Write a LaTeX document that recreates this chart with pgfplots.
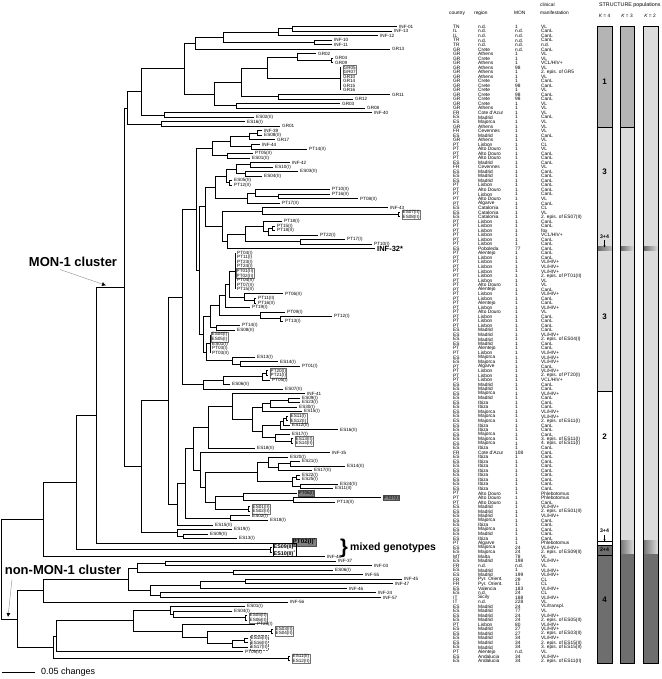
\documentclass[border=0pt]{standalone}
\usepackage{fontspec}
\setmainfont{Liberation Sans}
\usepackage{pgfplots}
\pgfplotsset{compat=1.18}
\usepackage{pgfplotstable}
\usetikzlibrary{arrows.meta}
\definecolor{segA}{HTML}{B4B4B4}
\definecolor{segL}{HTML}{DCDCDC}
\definecolor{segD}{HTML}{6E6E6E}
\newcommand\lbl{\fontsize{4.6}{4.53}\selectfont}
\newcommand\tbf{\fontsize{4.8}{4.53}\selectfont}
\tikzset{bx/.style={anchor=west, draw=black!55, inner sep=0.5pt, align=left, font=\lbl}}

\pgfplotstableread[col sep=comma]{
country,region,mon,clin
TN,n.d.,1,VL
IL,n.d.,n.d.,CanL
IL,n.d.,n.d.,CanL
TR,n.d.,n.d.,CanL
TR,n.d.,n.d.,n.d.
GR,Crete,n.d.,CanL
GR,Athens,1,VL
GR,Crete,1,VL
GR,Athens,1,VCL/HIV+
GR,Athens,98,VL
GR,Athens,1,2. epis. of GR5
GR,Athens,1,VL
GR,Crete,1,CanL
GR,Crete,98,CanL
GR,Crete,1,VL
GR,Crete,98,CanL
GR,Crete,98,CanL
GR,Crete,1,VL
GR,Athens,1,VL
FR,Cote d'Azur,1,VL
ES,Madrid,1,CanL
ES,Majorca,1,VL
GR,Athens,1,VL
FR,Cevennes,1,VL
ES,Madrid,1,CanL
GR,Athens,1,VL
PT,Lisbon,1,CL
PT,Alto Douro,1,VL
PT,Alto Douro,1,CanL
PT,Alto Douro,1,CanL
ES,Madrid,1,CanL
FR,Cevennes,1,VL
ES,Madrid,1,CanL
ES,Madrid,1,CanL
ES,Madrid,1,CanL
PT,Lisbon,1,CanL
PT,Alto Douro,1,CanL
PT,Lisbon,1,CanL
PT,Alto Douro,1,VL
PT,Algarve,1,CanL
ES,Catalonia,1,CL
ES,Catalonia,1,VL
ES,Catalonia,1,2. epis. of ES07(II)
PT,Lisbon,1,CanL
PT,Lisbon,1,CanL
PT,Lisbon,1,fox
PT,Lisbon,1,VCL/HIV+
PT,Lisbon,1,CanL
PT,Lisbon,1,CanL
ES,Poboleda,77,CanL
PT,Alentejo,1,CanL
PT,Lisbon,1,CanL
PT,Lisbon,1,VL/HIV+
PT,Lisbon,1,VL/HIV+
PT,Lisbon,1,VL/HIV+
PT,Lisbon,1,2. epis. of PT01(II)
PT,Lisbon,1,VL
PT,Alto Douro,1,VL
PT,Alentejo,1,CanL
PT,Lisbon,1,VL/HIV+
PT,Lisbon,1,CanL
PT,Alentejo,1,CanL
PT,Lisbon,1,VL/HIV+
PT,Alto Douro,1,VL
PT,Lisbon,1,CanL
PT,Lisbon,1,CanL
PT,Lisbon,1,CanL
ES,Madrid,1,CanL
ES,Madrid,1,VL/HIV+
ES,Madrid,1,2. epis. of ES04(I)
ES,Madrid,1,CanL
PT,Alentejo,1,CanL
PT,Lisbon,1,VL/HIV+
ES,Majorca,1,VL/HIV+
ES,Majorca,1,VL/HIV+
PT,Algarve,1,CanL
PT,Lisbon,1,VL/HIV+
PT,Lisbon,1,2. epis. of PT20(I)
PT,Lisbon,1,VCL/HIV+
ES,Madrid,1,CanL
ES,Madrid,1,CanL
ES,Majorca,1,VL/HIV+
ES,Madrid,1,CanL
ES,Ibiza,1,CanL
ES,Ibiza,1,CanL
ES,Majorca,1,VL/HIV+
ES,Majorca,1,VL/HIV+
ES,Majorca,1,2. epis. of ES11(I)
ES,Ibiza,1,CanL
ES,Ibiza,1,CanL
ES,Majorca,1,CanL
ES,Majorca,1,3. epis. of ES11(I)
ES,Majorca,1,4. epis. of ES11(I)
ES,Ibiza,1,CanL
FR,Cote d'Azur,108,CanL
ES,Ibiza,1,CanL
ES,Ibiza,1,CanL
ES,Ibiza,1,CanL
ES,Ibiza,1,CanL
ES,Ibiza,1,CanL
ES,Ibiza,1,CanL
ES,Ibiza,1,CanL
ES,Ibiza,1,CanL
PT,Alto Douro,1,Phlebotomus
PT,Alto Douro,1,Phlebotomus
PT,Alto Douro,1,CanL
ES,Madrid,1,VL/HIV+
ES,Madrid,1,2. epis. of ES01(II)
ES,Madrid,1,VL/HIV+
ES,Majorca,1,CanL
ES,Ibiza,1,CanL
ES,Majorca,1,CanL
ES,Madrid,1,CanL
ES,Ibiza,1,CanL
PT,Algarve,1,Phlebotomus
ES,Majorca,24,VL/HIV+
ES,Majorca,24,2. epis. of ES09(II)
MT,Malta,78,VL
ES,Madrid,198,VL/HIV+
FR,n.d.,n.d.,VL
ES,Madrid,1,VL/HIV+
ES,Madrid,199,VL/HIV+
FR,Pyr. Orient.,29,CL
FR,Pyr. Orient.,11,CL
ES,Valencia,183,VL/HIV+
ES,n.d.,24,CL
IT,Sicily,188,VL/HIV+
IT,n.d.,228,VL
ES,Madrid,24,VL/transpl.
ES,Madrid,77,VL
ES,Madrid,24,VL/HIV+
ES,Madrid,24,2. epis. of ES05(II)
PT,Lisbon,80,VL/HIV+
ES,Madrid,27,VL/HIV+
ES,Madrid,27,2. epis. of ES03(II)
ES,Madrid,34,VL/HIV+
ES,Madrid,34,2. epis. of ES15(II)
ES,Madrid,34,3. epis. of ES15(II)
PT,Alentejo,n.d.,VL
ES,Andalucia,34,VL/HIV+
ES,Andalucia,34,2. epis. of ES11(II)
}\infotab

\pgfplotstableread[col sep=comma]{
x,r,lab
399,1,INF-01
394,2,INF-13
380,3,INF-12
334,4,INF-10
334,5,INF-11
392,6,GR13
318,7,GR02
335,8,GR04
335,9,GR09
343,12,GR10
343,13,GR14
343,14,GR15
343,15,GR16
392,16,GR11
355,17,GR12
342,18,GR03
367,19,GR08
374,20,INF-40
256,21,ES02(II)
247,22,ES16(I)
282,23,GR01
264,24,INF-39
264,25,ES08(II)
277,26,GR17
262,27,INF-44
309,28,PT14(II)
255,29,PT05(II)
252,30,ES01(II)
292,31,INF-42
275,32,ES10(I)
300,33,ES03(II)
264,34,ES04(II)
234,35,ES05(II)
234,36,PT12(II)
332,37,PT10(II)
332,38,PT16(II)
360,39,PT08(II)
282,40,PT17(II)
390,41,INF-43
284,44,PT18(I)
277,45,PT15(I)
277,46,PT18(II)
320,47,PT22(I)
347,48,PT17(I)
374,49,PT10(I)
237,51,PT04(I)
237,52,PT11(I)
237,53,PT23(I)
237,54,PT24(I)
237,57,PT04(II)
237,58,PT07(II)
237,59,PT15(II)
285,60,PT06(II)
258,61,PT11(II)
258,62,PT16(II)
252,63,PT19(I)
287,64,PT09(I)
334,65,PT12(I)
285,66,PT13(I)
242,67,PT14(I)
237,68,ES08(II)
212,71,ES01(I)
212,72,PT03(I)
212,73,PT03(II)
257,74,ES13(I)
280,75,ES14(I)
302,76,PT01(I)
272,79,PT05(I)
232,80,ES06(II)
285,81,ES07(II)
307,82,INF-41
302,83,ES09(I)
302,84,ES23(I)
299,85,ES30(I)
304,86,ES15(I)
292,89,ES12(II)
340,90,ES16(II)
292,91,ES17(I)
257,94,ES18(II)
332,95,INF-35
290,96,ES20(I)
302,97,ES21(I)
347,98,ES14(II)
314,99,ES17(II)
302,100,ES22(I)
302,101,ES25(I)
340,102,ES24(II)
335,103,ES11(II)
337,106,PT13(II)
252,109,ES02(I)
270,110,ES18(I)
215,111,ES15(II)
234,112,ES19(I)
210,113,ES09(II)
239,114,ES13(I)
327,118,INF-48
338,119,INF-37
374,120,INF-03
335,121,ES06(I)
365,122,INF-55
404,123,INF-45
395,124,INF-47
349,125,INF-46
378,126,INF-24
383,127,INF-57
290,128,INF-56
247,129,ES01(I)
234,130,ES04(I)
257,133,PT25(I)
245,139,PT09(II)
}\leaftab

\begin{document}
\begin{tikzpicture}
\begin{axis}[scale only axis, width=661pt, height=679pt,
  xmin=0, xmax=661, ymin=-4.894, ymax=144.99, y dir=reverse,
  axis lines=none, ticks=none, clip=false,
  unbounded coords=jump, filter discard warning=false]
\addplot[draw=none] coordinates {(0,-4.894) (661,144.99)};

% ---------------- tree ----------------
\addplot[black, line width=1.0pt] coordinates {
(397,1) (292,1) (292,2) (392,2) (nan,nan)
(292,1.5) (278,1.5) (278,3) (378,3) (nan,nan)
(332,4) (314,4) (314,5) (332,5) (nan,nan)
(278,2.25) (223,2.25) (223,4.5) (314,4.5) (nan,nan)
(223,3.375) (195,3.375) (195,6) (390,6) (nan,nan)
(333,8) (331,8) (331,9) (333,9) (nan,nan)
(316,7) (297,7) (297,8.5) (331,8.5) (nan,nan)
(340,10) (340,15) (nan,nan)
(297,7.75) (267,7.75) (267,12.5) (340,12.5) (nan,nan)
(390,16) (278,16) (278,17) (353,17) (nan,nan)
(267,10.125) (241,10.125) (241,16.5) (278,16.5) (nan,nan)
(340,18) (236,18) (236,19) (365,19) (nan,nan)
(241,13.3125) (214,13.3125) (214,18.5) (236,18.5) (nan,nan)
(195,4.6875) (184,4.6875) (184,15.906) (214,15.906) (nan,nan)
(372,20) (164,20) (164,21) (254,21) (nan,nan)
(184,10.297) (141,10.297) (141,20.5) (164,20.5) (nan,nan)
(245,22) (161,22) (161,23) (280,23) (nan,nan)
(141,15.398) (127,15.398) (127,22.5) (161,22.5) (nan,nan)
(262,24) (257,24) (257,25) (262,25) (nan,nan)
(257,24.5) (249,24.5) (249,26) (275,26) (nan,nan)
(260,27) (251,27) (251,28) (307,28) (nan,nan)
(249,25.25) (230,25.25) (230,27.5) (251,27.5) (nan,nan)
(253,29) (227,29) (227,30) (250,30) (nan,nan)
(230,26.375) (212,26.375) (212,29.5) (227,29.5) (nan,nan)
(290,31) (250,31) (250,32) (273,32) (nan,nan)
(298,33) (245,33) (245,34) (262,34) (nan,nan)
(250,31.5) (236,31.5) (236,33.5) (245,33.5) (nan,nan)
(232,35) (229,35) (229,36) (232,36) (nan,nan)
(236,32.5) (226,32.5) (226,35.5) (229,35.5) (nan,nan)
(330,38) (278,38) (278,39) (358,39) (nan,nan)
(330,37) (255,37) (255,38.5) (278,38.5) (nan,nan)
(255,37.75) (247,37.75) (247,40) (280,40) (nan,nan)
(226,34) (215,34) (215,38.875) (247,38.875) (nan,nan)
(400,42) (398,42) (398,43) (400,43) (nan,nan)
(388,41) (262,41) (262,42.5) (398,42.5) (nan,nan)
(275,45) (272,45) (272,46) (275,46) (nan,nan)
(272,45.5) (268,45.5) (268,47) (318,47) (nan,nan)
(282,44) (263,44) (263,46.25) (268,46.25) (nan,nan)
(345,48) (300,48) (300,49) (372,49) (nan,nan)
(263,45.125) (245,45.125) (245,48.5) (300,48.5) (nan,nan)
(245,46.8125) (227,46.8125) (227,50) (375,50) (nan,nan)
(262,41.75) (222,41.75) (222,48.406) (227,48.406) (nan,nan)
(215,36.4375) (205,36.4375) (205,45.078) (222,45.078) (nan,nan)
(235,51) (235,59) (nan,nan)
(256,61) (254,61) (254,62) (256,62) (nan,nan)
(283,60) (244,60) (244,61.5) (254,61.5) (nan,nan)
(235,55) (229,55) (229,60.75) (244,60.75) (nan,nan)
(229,57.875) (225,57.875) (225,63) (250,63) (nan,nan)
(332,65) (280,65) (280,66) (283,66) (nan,nan)
(285,64) (260,64) (260,65.5) (280,65.5) (nan,nan)
(225,60.4375) (219,60.4375) (219,64.75) (260,64.75) (nan,nan)
(240,67) (216,67) (216,68) (235,68) (nan,nan)
(219,62.594) (210,62.594) (210,67.5) (216,67.5) (nan,nan)
(210,69) (210,73) (nan,nan)
(278,75) (240,75) (240,76) (300,76) (nan,nan)
(255,74) (232,74) (232,75.5) (240,75.5) (nan,nan)
(210,71) (206,71) (206,74.75) (232,74.75) (nan,nan)
(210,65.047) (203,65.047) (203,72.875) (206,72.875) (nan,nan)
(205,40.758) (199,40.758) (199,68.961) (203,68.961) (nan,nan)
(212,27.9375) (196,27.9375) (196,54.859) (199,54.859) (nan,nan)
(268,77) (266,77) (266,78) (268,78) (nan,nan)
(266,77.5) (262,77.5) (262,79) (270,79) (nan,nan)
(262,78.25) (223,78.25) (223,80) (230,80) (nan,nan)
(223,79.125) (203,79.125) (203,81) (283,81) (nan,nan)
(196,41.398) (182,41.398) (182,80.0625) (203,80.0625) (nan,nan)
(300,83) (288,83) (288,84) (300,84) (nan,nan)
(288,83.5) (270,83.5) (270,85) (297,85) (nan,nan)
(270,84.25) (262,84.25) (262,86) (302,86) (nan,nan)
(288,87) (286,87) (286,88) (288,88) (nan,nan)
(286,87.5) (283,87.5) (283,89) (290,89) (nan,nan)
(283,88.25) (280,88.25) (280,90) (338,90) (nan,nan)
(293,92) (291,92) (291,93) (293,93) (nan,nan)
(290,91) (275,91) (275,92.5) (291,92.5) (nan,nan)
(280,89.125) (262,89.125) (262,91.75) (275,91.75) (nan,nan)
(262,85.125) (252,85.125) (252,90.4375) (262,90.4375) (nan,nan)
(305,82) (232,82) (232,87.781) (252,87.781) (nan,nan)
(232,84.891) (208,84.891) (208,94) (255,94) (nan,nan)
(300,97) (290,97) (290,98) (345,98) (nan,nan)
(290,97.5) (278,97.5) (278,99) (312,99) (nan,nan)
(288,96) (268,96) (268,98.25) (278,98.25) (nan,nan)
(300,100) (296,100) (296,101) (300,101) (nan,nan)
(338,102) (300,102) (300,103) (333,103) (nan,nan)
(296,100.5) (292,100.5) (292,102.5) (300,102.5) (nan,nan)
(268,97.125) (257,97.125) (257,101.5) (292,101.5) (nan,nan)
(381,105) (293,105) (293,106) (335,106) (nan,nan)
(297,104) (243,104) (243,105.5) (293,105.5) (nan,nan)
(250,107) (248,107) (248,108) (250,108) (nan,nan)
(243,104.75) (215,104.75) (215,107.5) (248,107.5) (nan,nan)
(257,99.3125) (205,99.3125) (205,106.125) (215,106.125) (nan,nan)
(330,95) (200,95) (200,102.719) (205,102.719) (nan,nan)
(208,89.445) (193,89.445) (193,98.859) (200,98.859) (nan,nan)
(250,109) (230,109) (230,110) (268,110) (nan,nan)
(193,94.152) (185,94.152) (185,109.5) (230,109.5) (nan,nan)
(185,101.826) (177,101.826) (177,111) (213,111) (nan,nan)
(182,60.73) (168,60.73) (168,106.413) (177,106.413) (nan,nan)
(208,113) (183,113) (183,114) (237,114) (nan,nan)
(232,112) (177,112) (177,113.5) (183,113.5) (nan,nan)
(168,83.572) (141,83.572) (141,112.75) (177,112.75) (nan,nan)
(127,18.949) (124,18.949) (124,98.161) (141,98.161) (nan,nan)
(124,58.555) (96,58.555) (96,115) (290,115) (nan,nan)
(272,116) (270,116) (270,117) (272,117) (nan,nan)
(96,86.778) (76,86.778) (76,116.5) (270,116.5) (nan,nan)
(76,101.639) (43,101.639) (43,118) (325,118) (nan,nan)
(336,119) (165,119) (165,120) (372,120) (nan,nan)
(333,121) (233,121) (233,122) (363,122) (nan,nan)
(165,119.5) (137,119.5) (137,121.5) (233,121.5) (nan,nan)
(402,123) (245,123) (245,124) (393,124) (nan,nan)
(245,123.5) (200,123.5) (200,125) (347,125) (nan,nan)
(376,126) (160,126) (160,127) (381,127) (nan,nan)
(200,124.25) (150,124.25) (150,126.5) (160,126.5) (nan,nan)
(137,120.5) (128,120.5) (128,125.375) (150,125.375) (nan,nan)
(128,122.9375) (43,122.9375) (43,128) (288,128) (nan,nan)
(247,131) (245,131) (245,132) (247,132) (nan,nan)
(232,130) (173,130) (173,131.5) (245,131.5) (nan,nan)
(245,129) (170,129) (170,130.75) (173,130.75) (nan,nan)
(273,134) (271,134) (271,135) (273,135) (nan,nan)
(248,136) (244,136) (244,137) (248,137) (nan,nan)
(244,136.5) (232,136.5) (232,138) (248,138) (nan,nan)
(271,134.5) (207,134.5) (207,137.25) (232,137.25) (nan,nan)
(255,133) (182,133) (182,135.875) (207,135.875) (nan,nan)
(170,129.875) (133,129.875) (133,134.4375) (182,134.4375) (nan,nan)
(133,132.156) (56,132.156) (56,139) (243,139) (nan,nan)
(290,140) (288,140) (288,141) (290,141) (nan,nan)
(56,135.578) (53,135.578) (53,140.5) (288,140.5) (nan,nan)
(43,125.469) (17,125.469) (17,138.039) (53,138.039) (nan,nan)
(43,109.82) (1,109.82) (1,131.754) (17,131.754)
};

% leaf labels
\addplot[draw=none, nodes near coords, point meta=explicit symbolic,
  nodes near coords style={anchor=west, inner sep=0pt, font=\lbl}]
  table[x=x, y=r, meta=lab] {\leaftab};

% boxed labels
\node[bx] at (axis cs:343,10.5) {GR05\\GR07};
\node[bx] at (axis cs:402,42.5) {ES07(II)\\ES08(II)};
\node[bx] at (axis cs:236,55.5) {PT01(II)\\PT02(II)};
\node[bx] at (axis cs:211,69.5) {ES04(I)\\ES05(I)};
\node[bx] at (axis cs:270,77.5) {PT20(I)\\PT21(I)};
\node[bx] at (axis cs:290,87.5) {ES11(I)\\ES12(I)};
\node[bx] at (axis cs:295,92.5) {ES13(II)\\ES14(II)};
\node[bx] at (axis cs:252,107.5) {ES01(II)\\ES02(II)};
\node[bx, fill=black!50, draw=black!70] at (axis cs:298,104) {PT06(I)};
\node[bx, fill=black!50, draw=black!70] at (axis cs:383,105) {PT07(I)};
\node[bx, fill=black!50, draw=black!70, font=\fontsize{6.3}{6.5}\selectfont\bfseries] at (axis cs:292,114.7) {PT02(I)\textsuperscript{*}};
\node[bx, draw=black, font=\fontsize{5.4}{5.6}\selectfont\bfseries] at (axis cs:273,116.5) {ES09(II)\textsuperscript{*}\\ES10(II)\textsuperscript{*}};
\node[bx] at (axis cs:249,131.5) {ES05(II)\\ES06(II)};
\node[bx] at (axis cs:275,134.5) {ES03(II)\\ES04(II)};
\node[bx, densely dotted] at (axis cs:250,137) {ES15(II)\\ES16(II)\\ES17(II)};
\node[bx] at (axis cs:292,140.5) {ES11(II)\\ES12(II)};
\node[anchor=west, inner sep=0pt, font=\fontsize{7.5}{7.5}\selectfont\bfseries] at (axis cs:377,50) {INF-32*};

% cluster annotations
\node[font=\fontsize{13}{13}\selectfont\bfseries] at (axis cs:73,52.8) {MON-1 cluster};
\draw[black!45, line width=0.4pt, -{Latex[color=black,length=4pt,width=4pt]}] (axis cs:60,54.6) -- (axis cs:106,58.1);
\node[font=\fontsize{13}{13}\selectfont\bfseries] at (axis cs:63,120.9) {non-MON-1 cluster};
\draw[black!45, line width=0.4pt, -{Latex[color=black,length=4pt,width=4pt]}] (axis cs:12,123) -- (axis cs:8,131.3);
\node[anchor=west, inner sep=0pt, font=\fontsize{20}{20}\selectfont\bfseries] at (axis cs:340,116.1) {\}};
\node[anchor=west, inner sep=0pt, font=\fontsize{10.5}{10.5}\selectfont\bfseries] at (axis cs:350,116.1) {mixed genotypes};

% scale bar
\addplot[black, line width=0.8pt] coordinates {(2,143.45) (35,143.45)};
\node[anchor=west, inner sep=0pt, font=\fontsize{9}{9}\selectfont] at (axis cs:41,143.45) {0.05 changes};

% ---------------- table ----------------
\node[anchor=west, inner sep=0pt, font=\fontsize{4.8}{4.8}\selectfont] at (axis cs:449,-2.0) {country};
\node[anchor=west, inner sep=0pt, font=\fontsize{4.8}{4.8}\selectfont] at (axis cs:474,-2.0) {region};
\node[anchor=west, inner sep=0pt, font=\fontsize{4.8}{4.8}\selectfont] at (axis cs:514,-2.0) {MON};
\node[anchor=west, inner sep=0pt, font=\fontsize{4.8}{4.8}\selectfont] at (axis cs:540,-3.8) {clinical};
\node[anchor=west, inner sep=0pt, font=\fontsize{4.8}{4.8}\selectfont] at (axis cs:540,-2.0) {manifestation};
\node[anchor=west, inner sep=0pt, font=\fontsize{5.3}{5.3}\selectfont] at (axis cs:599,-3.8) {STRUCTURE populations};
\node[inner sep=0pt, font=\fontsize{4.8}{4.8}\selectfont] at (axis cs:604.5,-1.4) {\textit{K} = 4};
\node[inner sep=0pt, font=\fontsize{4.8}{4.8}\selectfont] at (axis cs:627,-1.4) {\textit{K} = 3};
\node[inner sep=0pt, font=\fontsize{4.8}{4.8}\selectfont] at (axis cs:650,-1.4) {\textit{K} = 2};

\addplot[draw=none, nodes near coords, point meta=explicit symbolic,
  nodes near coords style={anchor=west, inner sep=0pt, font=\tbf}]
  table[x expr=453, y expr=\coordindex+1, meta=country] {\infotab};
\addplot[draw=none, nodes near coords, point meta=explicit symbolic,
  nodes near coords style={anchor=west, inner sep=0pt, font=\tbf}]
  table[x expr=478, y expr=\coordindex+1, meta=region] {\infotab};
\addplot[draw=none, nodes near coords, point meta=explicit symbolic,
  nodes near coords style={anchor=west, inner sep=0pt, font=\tbf}]
  table[x expr=515, y expr=\coordindex+1, meta=mon] {\infotab};
\addplot[draw=none, nodes near coords, point meta=explicit symbolic,
  nodes near coords style={anchor=west, inner sep=0pt, font=\tbf}]
  table[x expr=541, y expr=\coordindex+1, meta=clin] {\infotab};

% ---------------- STRUCTURE bars ----------------
% K = 4
\addplot[draw=none, fill=segA] coordinates {(597,0.95) (612,0.95) (612,23.3) (597,23.3)} -- cycle;
\addplot[draw=none, fill=segL] coordinates {(597,23.3) (612,23.3) (612,49.5) (597,49.5)} -- cycle;
\addplot[draw=none, left color=black!60, right color=black!25] coordinates {(597,49.5) (612,49.5) (612,50.5) (597,50.5)} -- cycle;
\addplot[draw=none, fill=segL] coordinates {(597,50.5) (612,50.5) (612,81.5) (597,81.5)} -- cycle;
\addplot[draw=none, fill=white] coordinates {(597,81.5) (612,81.5) (612,115.5) (597,115.5)} -- cycle;
\addplot[draw=none, fill=segD] coordinates {(597,115.5) (612,115.5) (612,141.5) (597,141.5)} -- cycle;
\addplot[black, line width=0.5pt] coordinates {(597,0.95) (612,0.95) (612,141.5) (597,141.5)} -- cycle;
\addplot[black, line width=0.5pt] coordinates {(597,23.3) (612,23.3) (nan,nan) (597,81.5) (612,81.5) (nan,nan) (597,114.6) (612,114.6) (nan,nan) (597,115.5) (612,115.5) (nan,nan) (597,117.6) (612,117.6)};
% K = 3
\addplot[draw=none, fill=segA] coordinates {(620,0.95) (634,0.95) (634,23.3) (620,23.3)} -- cycle;
\addplot[draw=none, fill=segL] coordinates {(620,23.3) (634,23.3) (634,49.5) (620,49.5)} -- cycle;
\addplot[draw=none, left color=black!60, right color=segL] coordinates {(620,49.5) (634,49.5) (634,50.5) (620,50.5)} -- cycle;
\addplot[draw=none, fill=segL] coordinates {(620,50.5) (634,50.5) (634,114.5) (620,114.5)} -- cycle;
\addplot[draw=none, left color=black!55, right color=segL] coordinates {(620,114.5) (634,114.5) (634,117.5) (620,117.5)} -- cycle;
\addplot[draw=none, fill=segD] coordinates {(620,117.5) (634,117.5) (634,141.5) (620,141.5)} -- cycle;
\addplot[black, line width=0.5pt] coordinates {(620,0.95) (634,0.95) (634,141.5) (620,141.5)} -- cycle;
\addplot[black, line width=0.5pt] coordinates {(620,23.3) (634,23.3)};
% K = 2
\addplot[draw=none, fill=segL] coordinates {(643,0.95) (658,0.95) (658,49.5) (643,49.5)} -- cycle;
\addplot[draw=none, left color=black!60, right color=segL] coordinates {(643,49.5) (658,49.5) (658,50.5) (643,50.5)} -- cycle;
\addplot[draw=none, fill=segL] coordinates {(643,50.5) (658,50.5) (658,114.5) (643,114.5)} -- cycle;
\addplot[draw=none, left color=black!55, right color=segL] coordinates {(643,114.5) (658,114.5) (658,117.5) (643,117.5)} -- cycle;
\addplot[draw=none, fill=segD] coordinates {(643,117.5) (658,117.5) (658,141.5) (643,141.5)} -- cycle;
\addplot[black, line width=0.5pt] coordinates {(643,0.95) (658,0.95) (658,141.5) (643,141.5)} -- cycle;

% bar annotations
\node[font=\fontsize{8}{8}\selectfont\bfseries] at (axis cs:604.5,13.2) {1};
\node[font=\fontsize{8}{8}\selectfont\bfseries] at (axis cs:604.5,33.1) {3};
\node[font=\fontsize{8}{8}\selectfont\bfseries] at (axis cs:604.5,65.1) {3};
\node[font=\fontsize{8}{8}\selectfont\bfseries] at (axis cs:604.5,91.6) {2};
\node[font=\fontsize{8}{8}\selectfont\bfseries] at (axis cs:604.5,127.5) {4};
\node[inner sep=0pt, font=\fontsize{5.2}{5.2}\selectfont\bfseries] at (axis cs:604.5,47.3) {3+4};
\draw[-{Stealth[length=2pt,width=2pt]}, line width=0.4pt] (axis cs:604.5,48.1) -- (axis cs:604.5,49.7);
\node[inner sep=0pt, font=\fontsize{5.2}{5.2}\selectfont\bfseries] at (axis cs:604.5,112.3) {3+4};
\draw[-{Stealth[length=2pt,width=2pt]}, line width=0.4pt] (axis cs:604.5,113.1) -- (axis cs:604.5,114.6);
\node[inner sep=0pt, font=\fontsize{5.2}{5.2}\selectfont\bfseries] at (axis cs:604.5,116.5) {2+4};
\end{axis}
\end{tikzpicture}
\end{document}
